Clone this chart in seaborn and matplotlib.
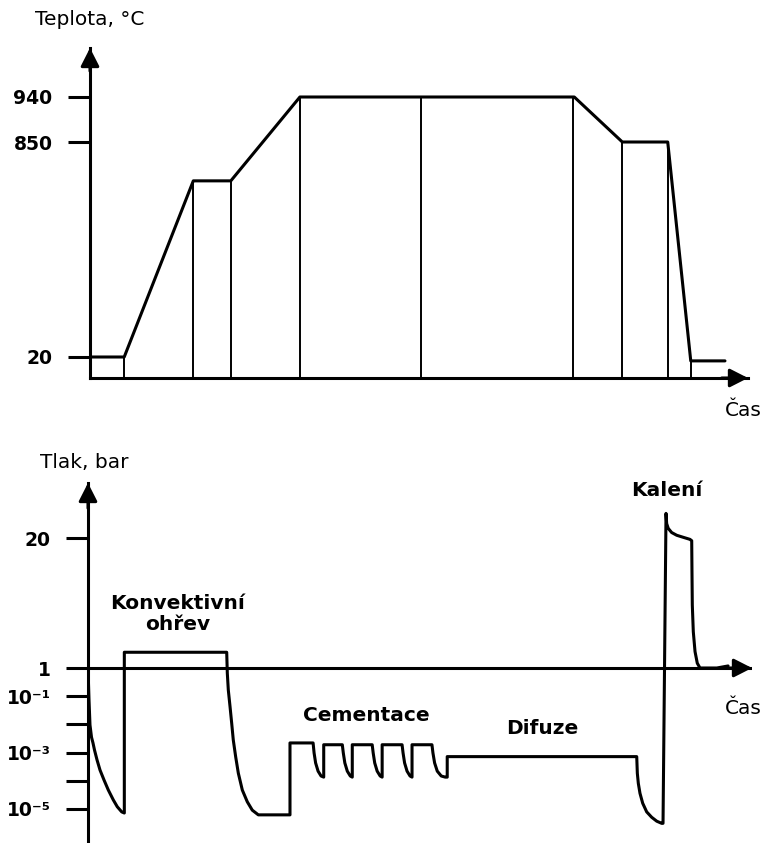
import numpy as np
import matplotlib
matplotlib.use("Agg")
import matplotlib.pyplot as plt
import seaborn as sns

# ---------------- data ----------------
# Temperature programme (time in arbitrary units, temperature in °C)
temp_time = [0.0, 5.2, 15.7, 21.4, 31.9, 73.6, 80.9, 87.8, 91.3, 96.5]
temp_value = [20, 20, 700, 700, 940, 940, 850, 850, 5, 5]
stage_bounds = [5.2, 15.7, 21.4, 31.9, 50.3, 73.4, 80.9, 87.8, 91.3]
temp_ticks = [20, 850, 940]
temp_ticklabels = ["20", "850", "940"]

# Pressure programme (time in arbitrary units, pressure in bar)
press_time = [
    # initial pump-down
    0.0, 0.15, 0.3, 0.53, 0.75, 0.98, 1.36, 1.81, 2.41, 3.06, 3.81, 4.41,
    5.08, 5.47,
    # convective heating, then pump-down
    5.47, 20.89, 20.98, 21.13, 21.39, 21.64, 21.88, 22.24, 22.64, 23.24,
    23.99, 24.74, 25.65, 30.42,
    # carburising pulses
    30.42, 33.9, 34.05, 34.28, 34.65, 35.1, 35.5,
    35.5, 38.3, 38.45, 38.68, 39.05, 39.5, 39.8,
    39.8, 42.8, 42.95, 43.18, 43.55, 44.0, 44.3,
    44.3, 47.3, 47.45, 47.68, 48.05, 48.5, 48.8,
    48.8, 51.8, 51.95, 52.2, 52.6, 53.2, 53.8, 54.1,
    # diffusion, final pump-down
    54.1, 82.64, 82.73, 82.88, 83.13, 83.54, 84.14, 84.89, 85.65, 86.4, 86.6,
    # gas quenching
    87.05, 87.15, 87.39, 87.9, 88.66, 89.65, 90.66, 90.92, 90.96, 91.01,
    91.16, 91.42, 91.76, 92.17, 94.7, 96.4,
]
press_value = [
    1.0, 0.074, 9.5e-3, 3.5e-3, 2.2e-3, 1.23e-3, 5.5e-4, 2.4e-4, 1.07e-4,
    4.7e-5, 2.1e-5, 1.2e-5, 7.9e-6, 7.2e-6,
    3.3, 3.3, 0.66, 0.166, 0.043, 0.011, 2.8e-3, 7.1e-4, 1.86e-4, 4.7e-5,
    1.8e-5, 9.1e-6, 6.2e-6, 6.2e-6,
    2.2e-3, 2.2e-3, 9.7e-4, 4.3e-4, 2.2e-4, 1.48e-4, 1.35e-4,
    1.9e-3, 1.9e-3, 9.7e-4, 4.3e-4, 2.2e-4, 1.48e-4, 1.35e-4,
    1.9e-3, 1.9e-3, 9.7e-4, 4.3e-4, 2.2e-4, 1.48e-4, 1.35e-4,
    1.9e-3, 1.9e-3, 9.7e-4, 4.3e-4, 2.2e-4, 1.48e-4, 1.35e-4,
    1.9e-3, 1.9e-3, 9.7e-4, 4.3e-4, 2.2e-4, 1.48e-4, 1.35e-4, 1.35e-4,
    7.2e-4, 7.2e-4, 1.86e-4, 8.1e-5, 3.6e-5, 1.6e-5, 7.9e-6, 5.1e-6, 3.7e-6,
    3.1e-6, 3.1e-6,
    23.6, 22.1, 21.4, 20.8, 20.4, 20.1, 19.8, 19.6, 15.1, 10.2,
    6.3, 3.4, 1.7, 1.0, 1.0, 1.3,
]
press_ticks = [20, 1, 1e-1, 1e-2, 1e-3, 1e-4, 1e-5]
press_ticklabels = ["20", "1", "10⁻¹", "", "10⁻³", "", "10⁻⁵"]

phase_labels = ["Konvektivní\nohřev", "Cementace", "Difuze", "Kalení"]
phase_label_time = [13.55, 41.9, 68.4, 87.2]
phase_label_press = [8.9, 0.0215, 0.0069, 27.0]

# ---------------- schematic (non-linear) axis scales ----------------
T_KNOTS = [-200, 20, 850, 940, 1200]
T_POS = [-35.99, 21, 236, 281, 411]


def temp_fwd(t):
    return np.interp(np.asarray(t, float), T_KNOTS, T_POS)


def temp_inv(y):
    return np.interp(np.asarray(y, float), T_POS, T_KNOTS)


PX_PER_BAR = 130 / 19
PX_PER_DECADE = 28.2


def press_fwd(p):
    p = np.asarray(p, float)
    lin = (p - 1) * PX_PER_BAR
    lg = PX_PER_DECADE * np.log10(np.clip(p, 1e-300, None))
    return np.where(p >= 1, lin, lg)


def press_inv(y):
    y = np.asarray(y, float)
    return np.where(y >= 0, 1 + y / PX_PER_BAR, 10 ** (np.minimum(y, 0) / PX_PER_DECADE))


# ---------------- figure ----------------
sns.set_theme(style="white")
plt.rcParams["font.family"] = ["DejaVu Sans"]
plt.rcParams["text.color"] = "black"
plt.rcParams["ytick.color"] = "black"
plt.rcParams["xtick.color"] = "black"
plt.rcParams["axes.labelcolor"] = "black"

W, H = 766, 843
fig = plt.figure(figsize=(W / 100, H / 100), dpi=100)
fig.patch.set_facecolor("white")

AX_LW = 2.2
CURVE_LW = 2.2
THIN_LW = 1.4
TICK_FONT = dict(fontsize=13.5, fontweight="bold", color="black")
ARROW = dict(arrowstyle="-|>,head_length=0.55,head_width=0.28",
             mutation_scale=20, color="black", lw=AX_LW,
             shrinkA=0, shrinkB=0)


def style_axes(ax):
    ax.set_facecolor("white")
    for s in ("top", "right"):
        ax.spines[s].set_visible(False)
    for s in ("left", "bottom"):
        ax.spines[s].set_linewidth(AX_LW)
        ax.spines[s].set_color("black")
    ax.grid(False)
    ax.set_xticks([])
    ax.tick_params(axis="y", which="major", length=16, width=AX_LW,
                   pad=11, color="black", left=True)
    ax.tick_params(axis="y", which="minor", left=False, length=0)
    ax.set_xlabel("")
    ax.set_ylabel("")


# ---- temperature panel ----
ax1 = fig.add_axes([90 / W, 1 - 378 / H, 658 / W, 330 / H])
ax1.set_yscale("function", functions=(temp_fwd, temp_inv))
t_lo, t_hi = float(temp_inv(0)), float(temp_inv(330))
ax1.set_ylim(t_lo, t_hi)
ax1.set_xlim(0, 100)

sns.lineplot(x=temp_time, y=temp_value, ax=ax1, color="black",
             lw=CURVE_LW, sort=False, estimator=None)
stage_heights = np.interp(stage_bounds, temp_time, temp_value)
ax1.vlines(stage_bounds, t_lo, stage_heights, color="black", lw=THIN_LW)

style_axes(ax1)
ax1.set_yticks(temp_ticks)
ax1.set_yticklabels(temp_ticklabels, **TICK_FONT)
ax1.yaxis.set_minor_locator(matplotlib.ticker.NullLocator())

ax1.annotate("", xy=(0, 1), xytext=(0, 0.93), xycoords="axes fraction",
             arrowprops=ARROW, annotation_clip=False)
ax1.annotate("", xy=(1, 0), xytext=(0.96, 0), xycoords="axes fraction",
             arrowprops=ARROW, annotation_clip=False)
ax1.text(-0.0836, 1.085, "Teplota, °C", transform=ax1.transAxes,
         ha="left", va="center", fontsize=14.5)
ax1.text(0.965, -0.10, "Čas", transform=ax1.transAxes,
         ha="left", va="center", fontsize=14.5)

# ---- pressure panel ----
ax2 = fig.add_axes([88 / W, 0, 664 / W, 360 / H])
ax2.set_yscale("function", functions=(press_fwd, press_inv))
ax2.set_ylim(float(press_inv(-175)), float(press_inv(185)))
ax2.set_xlim(0, 100)

ax2.axhline(1, color="black", lw=AX_LW, zorder=1)
sns.lineplot(x=press_time, y=press_value, ax=ax2, color="black",
             lw=CURVE_LW, sort=False, estimator=None)

style_axes(ax2)
ax2.spines["bottom"].set_visible(False)
ax2.set_yticks(press_ticks)
ax2.set_yticklabels(press_ticklabels, **TICK_FONT)
ax2.yaxis.set_minor_locator(matplotlib.ticker.NullLocator())

ax2.annotate("", xy=(0, 1), xytext=(0, 0.93), xycoords="axes fraction",
             arrowprops=ARROW, annotation_clip=False)
ax2.annotate("", xy=(1, 1), xytext=(0.96, 1),
             xycoords=("axes fraction", "data"),
             arrowprops=ARROW, annotation_clip=False)

for lab, tx, py in zip(phase_labels, phase_label_time, phase_label_press):
    ax2.text(tx, py, lab, ha="center", va="center", fontsize=14.5,
             fontweight="bold", linespacing=1.1)

ax2.text(-0.0723, 1.058, "Tlak, bar", transform=ax2.transAxes,
         ha="left", va="center", fontsize=14.5)
ax2.text(95.9, 0.038, "Čas", ha="left", va="center", fontsize=14.5)

fig.savefig("out.png", dpi=100, facecolor="white")
